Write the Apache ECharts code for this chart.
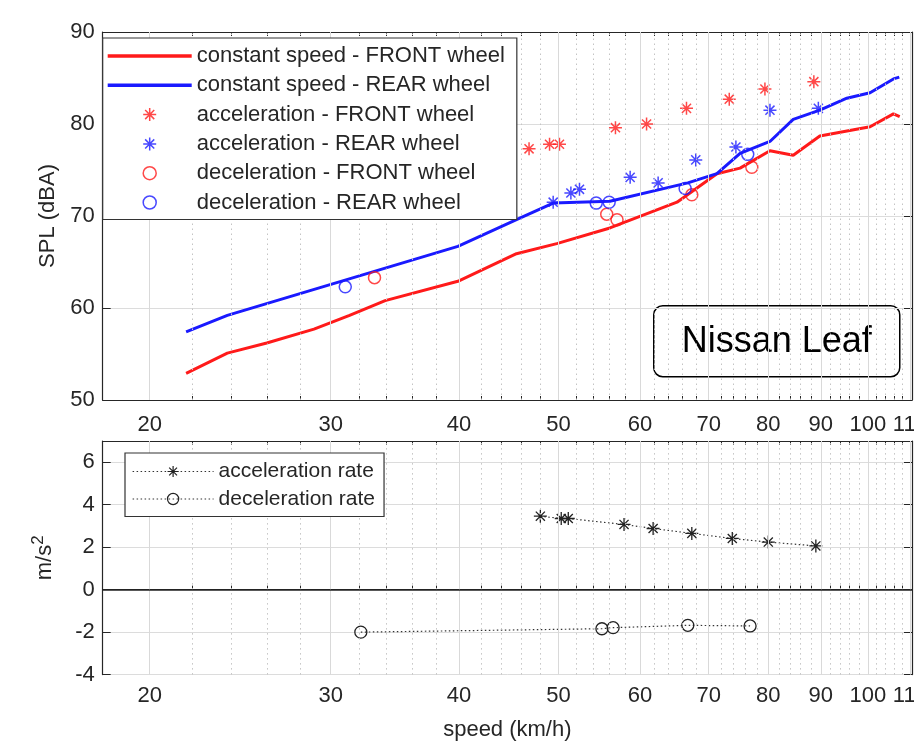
<!DOCTYPE html>
<html>
<head>
<meta charset="utf-8">
<script src="https://cdn.jsdelivr.net/npm/echarts@6/dist/echarts.min.js"></script>
<style>
html,body{margin:0;padding:0;background:#fff;overflow:hidden;}
#chart{width:914px;height:743px;}
</style>
</head>
<body>
<div id="chart"></div>
<script>
// ---------- data ----------
const majorTicks = [20, 30, 40, 50, 60, 70, 80, 90, 100, 110];
const minorTicks = [22,24,26,28,32,34,36,38,42,44,46,48,52,54,56,58,62,64,66,68,72,74,76,78,82,84,86,88,92,94,96,98,102,104,106,108];

const frontSpeed = [21.7, 23.8, 26.0, 28.9, 31.3, 33.9, 39.9, 45.5, 49.8, 56.1, 65.2, 71.3, 75.1, 80.3, 84.6, 89.8, 100.5, 105.9, 107.4];
const frontSPL   = [52.9, 55.1, 56.2, 57.7, 59.2, 60.8, 62.9, 65.9, 67.0, 68.7, 71.5, 74.6, 75.2, 77.1, 76.6, 78.7, 79.7, 81.1, 80.8];

const rearSpeed = [21.7, 23.8, 39.9, 45.5, 49.4, 56.1, 66.8, 71.3, 75.1, 80.3, 84.6, 89.8, 95.4, 100.5, 105.9, 107.3];
const rearSPL   = [57.4, 59.2, 66.7, 69.6, 71.4, 71.6, 73.6, 74.6, 76.8, 78.1, 80.5, 81.5, 82.8, 83.4, 84.9, 85.1];

const accFrontSpeed = [46.8, 49.0, 50.1, 56.8, 60.9, 66.6, 73.3, 79.4, 88.6];
const accFrontSPL   = [77.3, 77.8, 77.8, 79.6, 80.0, 81.7, 82.7, 83.8, 84.6];

const accRearSpeed = [49.4, 51.4, 52.4, 58.7, 62.5, 68.0, 74.4, 80.3, 89.5];
const accRearSPL   = [71.5, 72.5, 72.9, 74.2, 73.6, 76.1, 77.5, 81.5, 81.7];

const decFrontSpeed = [33.1, 55.7, 57.0, 67.4, 77.1];
const decFrontSPL   = [63.3, 70.2, 69.6, 72.3, 75.3];

const decRearSpeed = [31.0, 54.4, 56.0, 66.4, 76.4];
const decRearSPL   = [62.3, 71.4, 71.5, 73.0, 76.7];

const accelSpeed = [48.0, 50.3, 51.1, 57.9, 61.8, 67.4, 73.8, 80.0, 89.0];
const accelRate  = [3.46, 3.35, 3.35, 3.07, 2.88, 2.65, 2.41, 2.24, 2.06];

const decelSpeed = [32.1, 55.1, 56.5, 66.8, 76.8];
const decelRate  = [-2.0, -1.84, -1.79, -1.68, -1.71];

const names = {
  cf: 'constant speed - FRONT wheel',
  cr: 'constant speed - REAR wheel',
  af: 'acceleration - FRONT wheel',
  ar: 'acceleration - REAR wheel',
  df: 'deceleration - FRONT wheel',
  dr: 'deceleration - REAR wheel',
  acc: 'acceleration rate',
  dec: 'deceleration rate'
};

// ---------- helpers ----------
const FONT = "'Liberation Sans', Arial, sans-serif";
const TXT = '#262626';
const AX = '#262626';
const RED = '#ff1a1a';
const BLUE = '#1a1aff';
const STAR = 'path://M10 0L10 20M0 10L20 10M3 3L17 17M3 17L17 3';
const LINE_ICON = 'path://M0 0H84V3.5H0Z';
const zip = (a, b) => a.map((v, i) => [v, b[i]]);

function xAxes(gridIndex, withName, labelMargin) {
  const base = {
    type: 'log', logBase: 10, min: 18, max: 110.4, gridIndex: gridIndex,
    splitLine: { show: false }, axisPointer: { show: false }
  };
  return [
    Object.assign({}, base, {
      position: 'bottom',
      axisLine: { show: true, lineStyle: { color: AX, width: 1.2 } },
      axisTick: { show: true, inside: true, length: 7, customValues: majorTicks, lineStyle: { color: AX } },
      axisLabel: { show: true, customValues: majorTicks, margin: labelMargin, fontSize: 22, fontFamily: FONT, color: TXT,
        formatter: v => String(Math.round(v)) },
      name: withName ? 'speed (km/h)' : '',
      nameLocation: 'middle', nameGap: 44,
      nameTextStyle: { fontSize: 22, fontFamily: FONT, color: TXT }
    }),
    Object.assign({}, base, {
      position: 'bottom',
      axisLine: { show: false },
      axisTick: { show: true, inside: true, length: 4, customValues: minorTicks, lineStyle: { color: AX } },
      axisLabel: { show: false }
    }),
    Object.assign({}, base, {
      position: 'top',
      axisLine: { show: true, lineStyle: { color: AX, width: 1.2 } },
      axisTick: { show: true, inside: true, length: 7, customValues: majorTicks, lineStyle: { color: AX } },
      axisLabel: { show: false }
    }),
    Object.assign({}, base, {
      position: 'top',
      axisLine: { show: false },
      axisTick: { show: true, inside: true, length: 4, customValues: minorTicks, lineStyle: { color: AX } },
      axisLabel: { show: false }
    })
  ];
}

function yAxes(gridIndex, min, max, interval, name, nameRich) {
  const common = { type: 'value', gridIndex: gridIndex, min: min, max: max, interval: interval, axisPointer: { show: false } };
  return [
    Object.assign({}, common, {
      position: 'left',
      axisLine: { show: true, lineStyle: { color: AX, width: 1.2 } },
      axisTick: { show: true, inside: true, length: 8, lineStyle: { color: AX } },
      axisLabel: { show: true, margin: 8, fontSize: 22, fontFamily: FONT, color: TXT, showMaxLabel: max % interval === 0 },
      splitLine: { show: true, lineStyle: { color: '#dcdcdc', width: 1 } },
      name: name, nameLocation: 'middle', nameGap: 42,
      nameTextStyle: Object.assign({ fontSize: 22, fontFamily: FONT, color: TXT }, nameRich || {})
    }),
    Object.assign({}, common, {
      position: 'right',
      axisLine: { show: true, lineStyle: { color: AX, width: 1.2 } },
      axisTick: { show: true, inside: true, length: 8, lineStyle: { color: AX } },
      axisLabel: { show: false },
      splitLine: { show: false }
    })
  ];
}

function gridLines(xIdx, yIdx, extraY) {
  const data = [];
  majorTicks.forEach(v => data.push({ xAxis: v, lineStyle: { color: '#d9d9d9', type: 'solid', width: 1 } }));
  minorTicks.forEach(v => data.push({ xAxis: v, lineStyle: { color: '#c4c4c4', type: [1.5, 3.5], width: 1 } }));
  (extraY || []).forEach(d => data.push(d));
  return {
    type: 'line', xAxisIndex: xIdx, yAxisIndex: yIdx, data: [], z: 1, silent: true,
    markLine: { silent: true, symbol: ['none', 'none'], label: { show: false }, animation: false, data: data }
  };
}

const chart = echarts.init(document.getElementById('chart'), null, { renderer: 'canvas' });

const option = {
  animation: false,
  backgroundColor: '#fff',
  textStyle: { fontFamily: FONT },
  grid: [
    { left: 102.7, right: 2, top: 32, height: 368, outerBoundsMode: 'none', containLabel: false },
    { left: 102.7, right: 2, top: 441, height: 233.6, outerBoundsMode: 'none', containLabel: false }
  ],
  xAxis: [].concat(xAxes(0, false, 14), xAxes(1, true, 10)),
  yAxis: [].concat(
    yAxes(0, 50, 90, 10, 'SPL (dBA)'),
    yAxes(1, -4, 7, 2, '{a|m/s}{b|2}', {
      rich: {
        a: { fontSize: 22, fontFamily: FONT, color: TXT },
        b: { fontSize: 17, fontFamily: FONT, color: TXT, padding: [0, 0, 14, 0] }
      }
    })
  ),
  legend: [
    {
      orient: 'vertical', left: 102.7, top: 38,
      backgroundColor: '#fff', borderColor: '#333', borderWidth: 1.2,
      padding: [7, 12, 6, 5],
      itemWidth: 84, itemHeight: 13, itemGap: 7.3,
      textStyle: { fontSize: 22, fontFamily: FONT, color: TXT },
      itemStyle: { borderWidth: 1.5 },
      lineStyle: { width: 3.5 },
      data: [
        { name: names.cf, icon: LINE_ICON, itemStyle: { borderWidth: 0 } },
        { name: names.cr, icon: LINE_ICON, itemStyle: { borderWidth: 0 } },
        names.af, names.ar, names.df, names.dr
      ],
      z: 10
    },
    {
      orient: 'vertical', left: 125, top: 453,
      backgroundColor: '#fff', borderColor: '#333', borderWidth: 1.2,
      padding: [8, 9, 7, 7],
      itemWidth: 81, itemHeight: 14, itemGap: 6.5,
      textStyle: { fontSize: 21, fontFamily: FONT, color: TXT },
      itemStyle: { borderWidth: 1.2 },
      lineStyle: { width: 1.2 },
      data: [names.acc, names.dec],
      z: 10
    }
  ],
  graphic: [
    {
      type: 'group', left: 653, top: 305, z: 20,
      children: [
        { type: 'rect', shape: { x: 0, y: 0, width: 246, height: 71, r: 9 },
          style: { fill: '#fff', stroke: '#000', lineWidth: 1.5 } },
        { type: 'text', x: 123, y: 36,
          style: { text: 'Nissan Leaf', fontSize: 36, fontWeight: 'normal', fontFamily: FONT, fill: '#000', stroke: 'none', lineWidth: 0, align: 'center', verticalAlign: 'middle' } }
      ]
    }
  ],
  series: [
    gridLines(0, 0),
    gridLines(4, 2, [{ yAxis: 0, lineStyle: { color: '#222', type: 'solid', width: 1.5 } }]),
    {
      name: names.cf, type: 'line', xAxisIndex: 0, yAxisIndex: 0, symbol: 'none', z: 3,
      lineStyle: { color: RED, width: 3 }, itemStyle: { color: RED },
      data: zip(frontSpeed, frontSPL)
    },
    {
      name: names.cr, type: 'line', xAxisIndex: 0, yAxisIndex: 0, symbol: 'none', z: 3,
      lineStyle: { color: BLUE, width: 3 }, itemStyle: { color: BLUE },
      data: zip(rearSpeed, rearSPL)
    },
    {
      name: names.af, type: 'scatter', xAxisIndex: 0, yAxisIndex: 0, symbol: STAR, symbolSize: 13, z: 4,
      itemStyle: { color: RED, borderColor: RED, borderWidth: 1.5 },
      data: zip(accFrontSpeed, accFrontSPL)
    },
    {
      name: names.ar, type: 'scatter', xAxisIndex: 0, yAxisIndex: 0, symbol: STAR, symbolSize: 13, z: 4,
      itemStyle: { color: BLUE, borderColor: BLUE, borderWidth: 1.5 },
      data: zip(accRearSpeed, accRearSPL)
    },
    {
      name: names.df, type: 'scatter', xAxisIndex: 0, yAxisIndex: 0, symbol: 'circle', symbolSize: 12, z: 4,
      itemStyle: { color: 'rgba(0,0,0,0)', borderColor: RED, borderWidth: 1.5 },
      data: zip(decFrontSpeed, decFrontSPL)
    },
    {
      name: names.dr, type: 'scatter', xAxisIndex: 0, yAxisIndex: 0, symbol: 'circle', symbolSize: 12, z: 4,
      itemStyle: { color: 'rgba(0,0,0,0)', borderColor: BLUE, borderWidth: 1.5 },
      data: zip(decRearSpeed, decRearSPL)
    },
    {
      name: names.acc, type: 'line', xAxisIndex: 4, yAxisIndex: 2, symbol: STAR, symbolSize: 13, showSymbol: true, z: 4,
      lineStyle: { color: '#333', width: 1.2, type: [1.5, 2.5] },
      itemStyle: { color: '#222', borderColor: '#222', borderWidth: 1.3 },
      data: zip(accelSpeed, accelRate)
    },
    {
      name: names.dec, type: 'line', xAxisIndex: 4, yAxisIndex: 2, symbol: 'circle', symbolSize: 12, showSymbol: true, z: 4,
      lineStyle: { color: '#333', width: 1.2, type: [1.5, 2.5] },
      itemStyle: { color: 'rgba(0,0,0,0)', borderColor: '#222', borderWidth: 1.3 },
      data: zip(decelSpeed, decelRate)
    }
  ]
};

chart.setOption(option);
</script>
</body>
</html>
